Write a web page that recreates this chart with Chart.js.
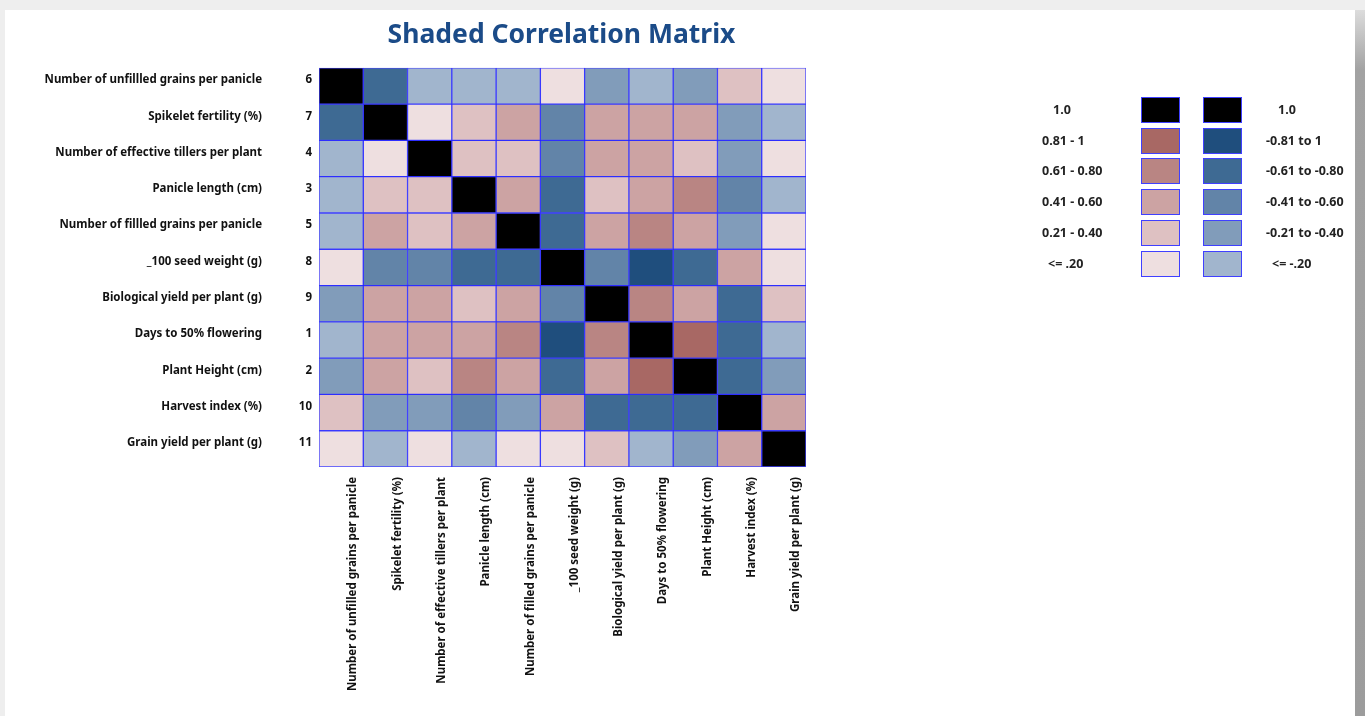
<!DOCTYPE html>
<html>
<head>
<meta charset="utf-8">
<title>Shaded Correlation Matrix</title>
<script src="https://cdn.jsdelivr.net/npm/chart.js@4"></script>
<style>
  body { margin: 0; background: #eeeeee; width: 1365px; height: 716px; overflow: hidden; position: relative; }
  #panel { position: absolute; left: 5px; top: 10px; width: 1350px; height: 706px; background: #ffffff; }
  #shade { position: absolute; left: 1355px; top: 10px; width: 10px; height: 706px; background: linear-gradient(#dcdcdc, #a2a2a2 60px, #9c9c9c); }
  #chartBox { position: absolute; left: 0; top: 0; width: 1118px; height: 716px; }
  #legend { position: absolute; left: 0; top: 0; }
  .lg-label { position: absolute; color: #222; line-height: 26px; white-space: nowrap; }
  .lg-box { position: absolute; width: 37px; height: 24px; border: 1px solid #4040ff; }
</style>
</head>
<body>
<div id="panel"></div>
<div id="shade"></div>
<div id="chartBox"><canvas id="matrix"></canvas></div>
<div id="legend"></div>
<script>
// row order of the matrix (top to bottom) with the variable numbers
const rowNames = [
  "Number of unfillled grains per panicle",
  "Spikelet fertility (%)",
  "Number of effective tillers per plant",
  "Panicle length (cm)",
  "Number of fillled grains per panicle",
  "_100 seed weight (g)",
  "Biological yield per plant (g)",
  "Days to 50% flowering",
  "Plant Height (cm)",
  "Harvest index (%)",
  "Grain yield per plant (g)"
];
const rowNumbers = ["6", "7", "4", "3", "5", "8", "9", "1", "2", "10", "11"];

const colNames = [
  "Number of unfilled grains per panicle",
  "Spikelet fertility (%)",
  "Number of effective tillers per plant",
  "Panicle length (cm)",
  "Number of filled grains per panicle",
  "_100 seed weight (g)",
  "Biological yield per plant (g)",
  "Days to 50% flowering",
  "Plant Height (cm)",
  "Harvest index (%)",
  "Grain yield per plant (g)"
];

// correlations (estimated from the shading classes)
const corr = [
  [ 1.00, -0.72, -0.15, -0.12, -0.18,  0.10, -0.32, -0.16, -0.28,  0.27,  0.08],
  [-0.72,  1.00,  0.09,  0.31,  0.46, -0.52,  0.48,  0.52,  0.44, -0.33, -0.14],
  [-0.15,  0.09,  1.00,  0.26,  0.29, -0.47,  0.45,  0.50,  0.34, -0.30,  0.11],
  [-0.12,  0.31,  0.26,  1.00,  0.55, -0.66,  0.36,  0.49,  0.68, -0.45, -0.10],
  [-0.18,  0.46,  0.29,  0.55,  1.00, -0.71,  0.47,  0.64,  0.51, -0.35,  0.07],
  [ 0.10, -0.52, -0.47, -0.66, -0.71,  1.00, -0.56, -0.84, -0.74,  0.43,  0.13],
  [-0.32,  0.48,  0.45,  0.36,  0.47, -0.56,  1.00,  0.67,  0.53, -0.69,  0.28],
  [-0.16,  0.52,  0.50,  0.49,  0.64, -0.84,  0.67,  1.00,  0.86, -0.70, -0.18],
  [-0.28,  0.44,  0.34,  0.68,  0.51, -0.74,  0.53,  0.86,  1.00, -0.67, -0.29],
  [ 0.27, -0.33, -0.30, -0.45, -0.35,  0.43, -0.69, -0.70, -0.67,  1.00,  0.47],
  [ 0.08, -0.14,  0.11, -0.10,  0.07,  0.13,  0.28, -0.18, -0.29,  0.47,  1.00]
];

// legend classes: 1.0, 0.81-1, 0.61-0.80, 0.41-0.60, 0.21-0.40, <=.20
const posLabels = ["1.0", "0.81 - 1", "0.61 - 0.80", "0.41 - 0.60", "0.21 - 0.40", "<= .20"];
const negLabels = ["1.0", "-0.81 to 1", "-0.61 to -0.80", "-0.41 to -0.60", "-0.21 to -0.40", "<= -.20"];
const posColors = ["#000000", "#a86864", "#b98583", "#cca3a3", "#dec1c2", "#eedfe0"];
const negColors = ["#000000", "#1f4e7d", "#3e6a93", "#6284a8", "#819cba", "#a1b5cd"];

function shade(v) {
  if (v >= 0.999) return posColors[0];
  const a = Math.abs(v);
  const cls = a > 0.8 ? 1 : a > 0.6 ? 2 : a > 0.4 ? 3 : a > 0.2 ? 4 : 5;
  return v >= 0 ? posColors[cls] : negColors[cls];
}

// the original uses a narrow bold sans face, pick the narrowest one installed
const probe = document.createElement("canvas").getContext("2d");
const SAMPLE = "Spikelet fertility (%)";
const fontChoices = [
  { family: "'Liberation Sans Narrow'", weight: "bold" },
  { family: "'Noto Sans'", weight: "bold extra-condensed" },
  { family: "'Noto Sans'", weight: "bold condensed" },
  { family: "'DejaVu Sans'", weight: "bold condensed" },
  { family: "'DejaVu Sans Condensed'", weight: "bold" }
];
function widthOf(font, text) {
  probe.font = "10px serif";
  probe.font = font;
  if (probe.font.indexOf("10px") !== -1) return NaN;
  return probe.measureText(text).width;
}
function installed(f) {
  const a = widthOf(f.weight + " 20px " + f.family + ", monospace", SAMPLE);
  const b = widthOf(f.weight + " 20px monospace", SAMPLE);
  const c = widthOf(f.weight + " 20px " + f.family + ", serif", SAMPLE);
  const d = widthOf(f.weight + " 20px serif", SAMPLE);
  return !isNaN(a) && (a !== b || c !== d);
}
let narrow = { family: "'DejaVu Sans Condensed'", weight: "bold" };
let best = Infinity;
fontChoices.forEach((f) => {
  if (!installed(f)) return;
  const w = widthOf(f.weight + " 13px " + f.family, SAMPLE);
  if (w < best) { best = w; narrow = f; }
});
const FAMILY = narrow.family + ", 'DejaVu Sans Condensed', sans-serif";
function fitSize(text, target, maxSize) {
  const w = widthOf(narrow.weight + " 20px " + FAMILY, text);
  return Math.min(maxSize, Math.round(20 * target / w * 2) / 2);
}
const labelSize = fitSize(SAMPLE, 113, 14);
const titleSize = fitSize("Shaded Correlation Matrix", 348, 36);
const legendSize = fitSize("0.61 - 0.80", 60, 13);
const labelFont = { family: FAMILY, size: labelSize, weight: narrow.weight };
// title box is kept 68px tall with the text centred near y = 36
const titleTop = Math.round(36 - titleSize * 0.6);
const titleBottom = Math.round(68 - titleSize * 1.2 - titleTop);

// one stacked dataset per column, each cell is a unit bar
const datasets = colNames.map((name, j) => ({
  label: name,
  data: rowNames.map(() => 1),
  backgroundColor: rowNames.map((_, i) => shade(corr[i][j])),
  borderColor: "rgba(20, 20, 255, 0.8)",
  borderWidth: 1,
  borderSkipped: false,
  barPercentage: 1,
  categoryPercentage: 1
}));

new Chart(document.getElementById("matrix"), {
  type: "bar",
  data: { labels: rowNames, datasets: datasets },
  options: {
    indexAxis: "y",
    responsive: true,
    maintainAspectRatio: false,
    animation: false,
    layout: { padding: { left: 5, right: 0, top: 0, bottom: 9 } },
    plugins: {
      legend: { display: false },
      tooltip: { enabled: false },
      title: {
        display: true,
        text: "Shaded Correlation Matrix",
        color: "#1b4b88",
        font: { family: FAMILY, size: titleSize, weight: narrow.weight, lineHeight: 1.2 },
        padding: { top: titleTop, bottom: titleBottom }
      }
    },
    scales: {
      x: {
        type: "linear",
        stacked: true,
        min: 0,
        max: colNames.length,
        grid: { display: false, drawTicks: false },
        border: { display: false },
        afterBuildTicks: (axis) => {
          axis.ticks = colNames.map((_, j) => ({ value: j + 0.5 }));
        },
        afterFit: (axis) => { axis.height = 240; },
        ticks: {
          autoSkip: false,
          minRotation: 90,
          maxRotation: 90,
          padding: 10,
          labelOffset: 12,
          color: "#111",
          font: labelFont,
          callback: (value, index) => colNames[index]
        }
      },
      y: {
        stacked: true,
        grid: { display: false, drawTicks: false },
        border: { display: false },
        afterFit: (axis) => { axis.width = 50; },
        ticks: {
          padding: 7,
          labelOffset: -6,
          color: "#111",
          font: labelFont,
          callback: (value, index) => rowNumbers[index]
        }
      },
      yName: {
        type: "category",
        position: "left",
        labels: rowNames,
        offset: true,
        weight: 1,
        grid: { display: false, drawTicks: false },
        border: { display: false },
        afterFit: (axis) => { axis.width = 264; },
        ticks: {
          padding: 7,
          labelOffset: -6,
          autoSkip: false,
          color: "#111",
          font: labelFont
        }
      },
      // empty space on the right so the title centres over the matrix
      spacer: {
        type: "category",
        position: "right",
        labels: rowNames,
        grid: { display: false },
        border: { display: false },
        ticks: { display: false },
        afterFit: (axis) => { axis.width = 312; }
      }
    }
  }
});

// legend with the two colour scales
const legend = document.getElementById("legend");
const legendFont = narrow.weight + " " + legendSize + "px " + FAMILY;
function addLegendRow(i) {
  const top = 97 + i * 30.7;
  const items = [
    { cls: "lg-label", left: i === 0 ? 1053 : i === 5 ? 1048 : 1042, text: posLabels[i] },
    { cls: "lg-box", left: 1141, color: posColors[i] },
    { cls: "lg-box", left: 1203, color: negColors[i] },
    { cls: "lg-label", left: i === 0 ? 1278 : i === 5 ? 1272 : 1266, text: negLabels[i] }
  ];
  items.forEach((it) => {
    const el = document.createElement("div");
    el.className = it.cls;
    el.style.left = it.left + "px";
    el.style.top = top + "px";
    if (it.text) { el.textContent = it.text; el.style.font = legendFont; el.style.lineHeight = "26px"; }
    if (it.color) el.style.background = it.color;
    legend.appendChild(el);
  });
}
posLabels.forEach((_, i) => addLegendRow(i));
</script>
</body>
</html>
